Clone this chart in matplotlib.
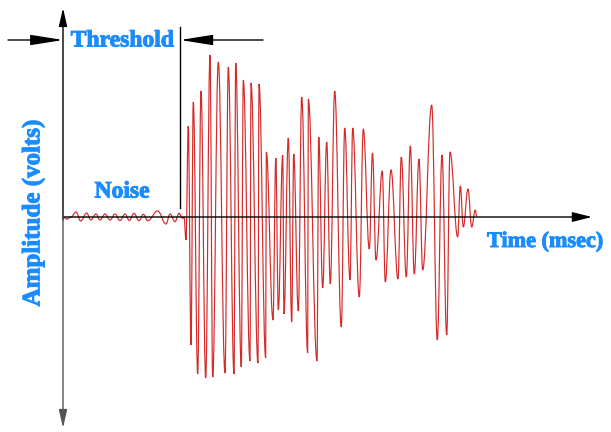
import matplotlib
matplotlib.use("Agg")
import matplotlib.pyplot as plt
import matplotlib.patheffects as pe
from matplotlib.patches import FancyArrowPatch, PathPatch
from matplotlib.path import Path

# time (arbitrary units) and amplitude of the waveform extrema
noise_t = [0, 4, 8, 13, 17.7, 23.7, 27.7, 33, 37, 42, 47, 52, 57, 62, 66.3, 71, 76,
           80.3, 84.7, 94.7, 103, 107, 112, 116, 119.7, 121]
noise_a = [0, -2, 0, 5, -4, 4, -3, 3, -3, 3, -3, 3, -3.5, 3, -3.5, 3.7, -3.7,
           2.7, -3.7, 6, -7, 3, -4.7, 3.7, -1.3, 0]

burst_t = [123, 125.3, 128, 130.3, 134.7, 138, 142.7, 147, 149.7, 155.3, 162, 165.3,
           171, 172.7, 178.3, 180.3, 187, 188, 195, 196, 202.7, 203.3, 210, 212.8,
           215.3, 219.7, 221, 225.3, 228.7, 230.7, 235.3, 238.7, 244.7, 245.3, 254,
           255.7, 259.7, 263.7, 267.3, 271.7, 278.3, 281.7, 287, 289.7, 296.3, 300.3,
           306.3, 309.5, 313, 319.3, 322.3, 328, 335, 338.3, 343.3, 347.3, 351.3, 356,
           359.7, 368.7, 374.3, 379, 383.7, 387, 394.7, 397.3, 400.3, 405, 408.7,
           412.3, 413.7]
burst_a = [-23, 91, -128, 115, -157, 126, -161, 162, -160, 155, -156, 150,
           -157, 154, -150, 137, -144, 134, -146, 133, -141, 65, -103, 59,
           -93, 62, -97, 79, -105, 63, -94, 120, -136, 118, -144,
           80, -71, 75, -67, 126, -110, 89, -63, 89, -80, 88,
           -32, 64, -43, 46, -65, 47, -62, 60, -60, 71, -57, 58,
           -53, 112, -123, 62, -118, 65, -20, 31, -10, 28, -10,
           7, 1]

labels = {"x": "Time (msec)", "y": "Amplitude (volts)",
          "noise": "Noise", "threshold": "Threshold"}

blue = "#1a8cff"
red = "#d42a2a"
font = dict(family="Liberation Serif", fontweight="bold", color=blue,
            path_effects=[pe.withStroke(linewidth=0.7, foreground=blue)])

fig = plt.figure(figsize=(6.11, 4.32), dpi=100)
ax = fig.add_axes([0, 0, 1, 1])
ax.set_xlim(-63, 548)
ax.set_ylim(-215, 217)
ax.axis("off")

# smooth wave: cubic segments between extrema with flat tangents at each extremum
t = noise_t + burst_t
a = noise_a + burst_a
verts = [(t[0], a[0])]
codes = [Path.MOVETO]
for i in range(1, len(t)):
    dt = (t[i] - t[i - 1]) * 0.4
    verts += [(t[i - 1] + dt, a[i - 1]), (t[i] - dt, a[i]), (t[i], a[i])]
    codes += [Path.CURVE4] * 3
ax.add_patch(PathPatch(Path(verts, codes), fill=False, edgecolor=red, lw=0.85))


def arrow(p0, p1, hl, hw, lw=1.0, color="black"):
    ar = FancyArrowPatch(p0, p1, arrowstyle=f"-|>,head_length={hl},head_width={hw}",
                         mutation_scale=1, shrinkA=0, shrinkB=0, lw=lw,
                         color=color, zorder=3)
    ax.add_patch(ar)


# axes
arrow((0, 0), (529, 0), 12, 3)
arrow((0, -3), (0, 209), 11, 2.5)
arrow((0, 3), (0, -211), 11, 2.5, color="#555555")

# threshold markers
arrow((-55, 177), (0, 177), 20, 3.2)
arrow((200, 177), (117.3, 177), 20, 3.2)
ax.plot([117.3, 117.3], [9, 190], color="black", lw=1)

ax.text(59.5, 176, labels["threshold"], ha="center", va="center", fontsize=17, **font)
ax.text(59, 25, labels["noise"], ha="center", va="center", fontsize=17, **font)
ax.text(424, -25, labels["x"], ha="left", va="center", fontsize=16, **font)
ax.text(-30, 4, labels["y"], ha="center", va="center", rotation=90, fontsize=18, **font)

fig.savefig("out.png", dpi=100)
